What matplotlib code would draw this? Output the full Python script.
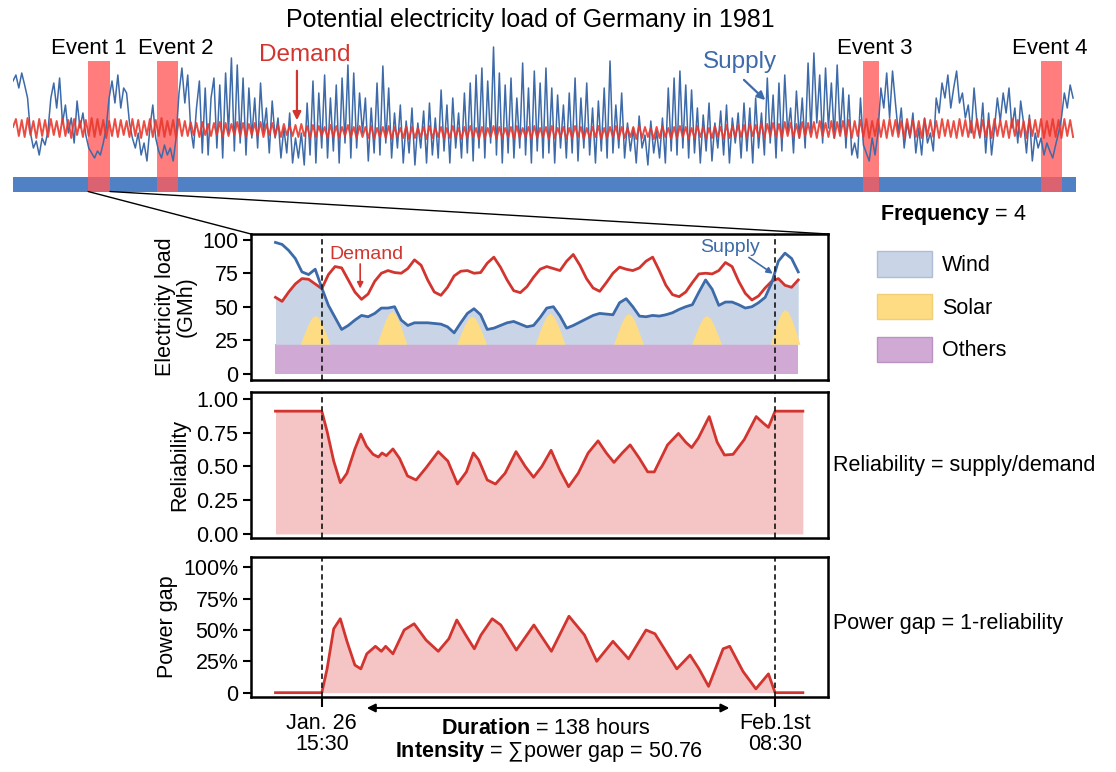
import numpy as np
import matplotlib.pyplot as plt
from matplotlib.patches import ConnectionPatch, Patch

plt.rcParams['font.family'] = ['Liberation Sans', 'DejaVu Sans']
plt.rcParams['mathtext.fontset'] = 'custom'
plt.rcParams['mathtext.rm'] = 'Liberation Sans'
plt.rcParams['mathtext.bf'] = 'Liberation Sans:bold'

# ---- whole year 1981, one value per day (arbitrary units) ----
year_supply = [
    112, 118, 105, 120, 108, 95, 60, 45, 52, 38,
    55, 48, 62, 95, 110, 85, 115, 70, 88, 60,
    75, 50, 92, 65, 80, 58, 45, 40, 35, 42,
    38, 50, 65, 95, 112, 90, 118, 85, 105, 100,
    70, 55, 45, 60, 38, 50, 32, 65, 88, 55,
    42, 35, 48, 38, 45, 32, 55, 100, 125, 90,
    118, 65, 45, 85, 112, 40, 105, 38, 95, 115,
    45, 108, 35, 120, 60, 135, 42, 128, 50, 115,
    38, 105, 55, 95, 45, 110, 60, 85, 40, 92,
    55, 75, 35, 65, 40, 80, 30, 55, 35, 60,
    28, 90, 38, 112, 30, 100, 45, 118, 35, 95,
    42, 108, 30, 115, 50, 128, 35, 120, 45, 100,
    60, 95, 32, 85, 40, 110, 38, 127, 50, 105,
    35, 80, 45, 88, 30, 72, 40, 85, 28, 70,
    45, 82, 30, 90, 38, 75, 35, 103, 42, 88,
    30, 95, 45, 80, 35, 100, 40, 110, 32, 118,
    45, 125, 35, 112, 50, 146, 38, 120, 30, 108,
    40, 115, 35, 95, 45, 130, 38, 105, 30, 122,
    42, 110, 35, 125, 40, 105, 30, 98, 45, 88,
    35, 100, 40, 115, 32, 95, 45, 110, 38, 85,
    30, 92, 42, 105, 35, 132, 40, 88, 45, 100,
    35, 70, 42, 65, 30, 77, 45, 58, 28, 72,
    40, 62, 35, 75, 30, 105, 42, 115, 38, 122,
    45, 108, 35, 103, 40, 85, 30, 78, 42, 90,
    32, 70, 45, 82, 38, 88, 30, 75, 50, 80,
    35, 90, 42, 85, 30, 95, 45, 80, 38, 115,
    50, 98, 35, 110, 42, 118, 60, 85, 40, 102,
    55, 95, 45, 130, 60, 140, 70, 118, 50, 125,
    65, 110, 55, 128, 60, 105, 45, 98, 38, 50,
    35, 95, 48, 40, 32, 55, 38, 60, 105, 85,
    120, 75, 122, 90, 60, 85, 45, 70, 55, 80,
    40, 65, 38, 75, 50, 60, 42, 95, 80, 110,
    95, 118, 85, 105, 122, 90, 100, 75, 88, 60,
    105, 70, 55, 90, 40, 80, 38, 65, 95, 72,
    100, 80, 105, 65, 85, 50, 92, 70, 40, 78,
    32, 60, 45, 55, 38, 50, 42, 35, 48, 60,
    75, 100, 85, 108, 95,
]
year_demand = [
    66, 74, 57, 73, 56, 75, 58, 72, 55, 74,
    57, 73, 56, 74, 58, 72, 56, 75, 57, 73,
    55, 74, 58, 72, 56, 73, 57, 75, 56, 74,
    58, 73, 55, 72, 57, 74, 56, 73, 58, 72,
    56, 74, 57, 73, 55, 72, 58, 74, 56, 73,
    57, 75, 56, 72, 58, 73, 55, 74, 57, 72,
    57, 71, 58, 70, 56, 71, 58, 69, 57, 70,
    58, 71, 56, 70, 57, 69, 58, 71, 57, 70,
    56, 69, 58, 70, 57, 71, 56, 69, 58, 70,
    57, 68, 56, 69, 58, 67, 57, 68, 56, 69,
    57, 67, 55, 68, 56, 67, 57, 66, 55, 68,
    56, 67, 55, 66, 57, 68, 56, 66, 55, 67,
    56, 66, 55, 67, 54, 65, 56, 66, 55, 67,
    54, 66, 56, 65, 55, 67, 54, 66, 55, 65,
    56, 66, 54, 67, 55, 65, 56, 66, 54, 65,
    55, 67, 56, 65, 54, 66, 55, 67, 56, 65,
    54, 66, 55, 65, 56, 67, 54, 66, 55, 65,
    56, 66, 54, 67, 55, 65, 56, 66, 54, 67,
    55, 65, 56, 66, 54, 67, 55, 65, 56, 66,
    54, 65, 55, 67, 56, 66, 54, 65, 55, 66,
    56, 67, 54, 65, 55, 66, 56, 67, 54, 66,
    55, 65, 56, 66, 54, 67, 55, 66, 56, 65,
    54, 66, 55, 67, 56, 65, 54, 66, 55, 67,
    56, 66, 54, 65, 55, 67, 56, 66, 54, 65,
    55, 67, 56, 66, 54, 68, 55, 67, 56, 68,
    56, 68, 55, 69, 57, 68, 56, 70, 55, 69,
    57, 70, 56, 69, 55, 71, 57, 70, 56, 69,
    55, 71, 57, 70, 56, 71, 55, 72, 57, 70,
    56, 72, 55, 71, 57, 72, 56, 73, 55, 72,
    57, 73, 56, 74, 55, 72, 57, 74, 56, 73,
    55, 74, 57, 73, 56, 72, 55, 74, 57, 73,
    56, 72, 55, 74, 57, 73, 56, 72, 55, 74,
    57, 73, 56, 72, 55, 74, 57, 73, 56, 72,
    55, 74, 57, 73, 56, 72, 55, 74, 57, 73,
    56, 72, 55, 74, 57, 73, 56, 72, 55, 74,
    57, 73, 56, 74, 55, 72, 57, 74, 56, 73,
    55, 74, 57, 73, 56,
]
event_names = ['Event 1', 'Event 2', 'Event 3', 'Event 4']
event_start_day = [25.8, 49.5, 291.9, 353.0]
event_end_day = [33.3, 56.7, 297.4, 360.2]

# ---- zoom on event 1 (hours from Jan. 26 15:30) ----
load_hours = list(range(-14, 146, 2))
supply_gmh = [98, 96.5, 92, 86, 76, 74, 78, 64, 51, 42,
              33, 36, 40, 43.5, 42.5, 45, 49, 49, 50, 40,
              36, 38, 38, 38, 37.5, 37, 35, 30.5, 38, 45,
              48.5, 44, 33, 34, 36, 38, 39, 37, 35, 36,
              42, 49, 50, 43, 34, 36, 38.5, 41, 43.5, 45,
              44.5, 44, 53, 56, 50, 43, 42.5, 43.5, 43, 44,
              45.5, 48, 50, 51.5, 61, 70, 63, 51, 53.5, 53.5,
              51.5, 49, 50, 53, 57, 68, 84, 90, 86, 76]
demand_gmh = [57, 54, 61, 67, 71, 70.5, 67, 63.5, 74, 80,
              79, 70, 61, 55.5, 59.5, 69, 75, 77, 75.5, 75,
              78.5, 85, 81, 70, 61, 58.5, 64.5, 73, 76.5, 77,
              75, 75.5, 82.5, 87, 79.5, 70, 62, 60.5, 65, 72,
              78, 80, 78.5, 77, 84, 89, 81, 71, 64, 61.5,
              68, 75, 79.6, 78, 77, 79, 84, 87, 77, 66,
              59, 57.5, 61, 68, 74.5, 75, 74.5, 77, 83, 80,
              69, 60, 55, 58, 64, 69, 71, 66, 64.5, 70]
others_gmh = 22
solar_peak_hours = [-2.0, 21.2, 45.3, 69.0, 92.7, 116.3, 140.0]
solar_peak_gmh = [43.5, 46.5, 43, 45, 45, 43.5, 48]
solar_offsets = [-4.5, -3, -2, -1, 0, 1, 2, 3, 4.5]
solar_shape = [0, 0.45, 0.72, 0.92, 1.0, 0.92, 0.72, 0.45, 0]

rel_hours = [-14, 0, 1.6, 3.6, 5.6, 7.6, 10.0, 11.8, 13.5, 15.5, 17.1, 18.2, 19.5,
             21.5, 23.5, 25.9, 28.5, 31.5, 35.2, 38.1, 41.0, 43.7, 45.8, 47.4,
             50.0, 52.5, 55.4, 58.7, 61.5, 64.0, 66.5, 69.3, 72.0, 74.6, 77.5,
             80.5, 83.5, 86.0, 88.3, 90.8, 93.2, 96.0, 98.5, 100.5, 104.5, 107.8,
             110.0, 111.8, 113.8, 117.1, 119.5, 121.7, 124.3, 127.7, 131.3, 133.5,
             135.0, 137.0, 145.4]
rel_values = [0.91, 0.91, 0.76, 0.54, 0.38, 0.45, 0.63, 0.74, 0.65, 0.59, 0.57, 0.60, 0.58,
              0.63, 0.56, 0.43, 0.40, 0.49, 0.61, 0.54, 0.37, 0.46, 0.60, 0.55,
              0.40, 0.37, 0.45, 0.61, 0.50, 0.42, 0.50, 0.62, 0.47, 0.35, 0.45,
              0.60, 0.69, 0.60, 0.53, 0.60, 0.66, 0.56, 0.46, 0.46, 0.66, 0.745,
              0.68, 0.64, 0.71, 0.87, 0.68, 0.585, 0.59, 0.70, 0.87, 0.82,
              0.79, 0.91, 0.91]

gap_hours = [-14, 0, 1.6, 3.6, 5.6, 7.6, 10.0, 11.8, 13.6, 16.2, 18.0, 19.3, 21.5,
             24.9, 27.9, 31.5, 35.2, 38.4, 40.8, 43.5, 46.1, 48.1, 51.5, 54.1,
             58.8, 64.1, 69.4, 74.7, 79.4, 83.1, 88.0, 92.7, 98.0, 100.7, 107.3,
             111.3, 114.0, 116.9, 121.3, 123.3, 127.3, 131.2, 135.0, 137.0, 145.4]
gap_values = [0, 0, 0.19, 0.51, 0.59, 0.41, 0.22, 0.19, 0.31, 0.37, 0.33, 0.37, 0.31,
              0.50, 0.55, 0.42, 0.33, 0.43, 0.58, 0.46, 0.35, 0.46, 0.59, 0.54,
              0.34, 0.54, 0.33, 0.61, 0.46, 0.25, 0.41, 0.27, 0.50, 0.47, 0.19,
              0.30, 0.19, 0.05, 0.35, 0.37, 0.17, 0.03, 0.15, 0, 0]

event_start_h = 0
event_end_h = 137

assert len(year_supply) == len(year_demand) == 365
assert len(load_hours) == len(supply_gmh) == len(demand_gmh)

# ---- layout ----
W, H = 1116, 772
RED = '#d2352f'
BLUE = '#3d6aa8'
fig = plt.figure(figsize=(W / 100, H / 100), dpi=100)


def add_ax(x0, y0, x1, y1):
    return fig.add_axes([x0 / W, 1 - y1 / H, (x1 - x0) / W, (y1 - y0) / H])


# top strip
ax0 = add_ax(13, 40, 1076, 193)
days = np.arange(len(year_supply))
ax0.axhspan(1.5, 16.5, color='#4f81c4', lw=0)
ax0.plot(days, year_supply, color=BLUE, lw=1.1)
ax0.plot(days, year_demand, color='#e8392e', lw=1.4, alpha=0.9)
ax0.bar(event_start_day, 130.5, width=np.subtract(event_end_day, event_start_day),
        bottom=1.5, align='edge', color='#ff5c5c', alpha=0.8, lw=0)
event_label_day = [26.1, 56.0, 296.0, 356.1]
for name, lx in zip(event_names, event_label_day):
    ax0.text(lx, 145, name, ha='center', va='center', fontsize=16)
ax0.text(100.3, 138, 'Demand', color=RED, fontsize=17.5, ha='center', va='center')
ax0.annotate('', xy=(97.5, 70), xytext=(97.5, 125),
             arrowprops=dict(arrowstyle='-|>', color=RED, lw=1.6, mutation_scale=12))
ax0.text(249.7, 131, 'Supply', color=BLUE, fontsize=17.5, ha='center', va='center')
ax0.annotate('', xy=(259, 91), xytext=(250.3, 115),
             arrowprops=dict(arrowstyle='-|>', color=BLUE, lw=1.6, mutation_scale=12))
ax0.set_xlim(0, 365)
ax0.set_ylim(0, 153)
ax0.axis('off')

fig.text(530 / W, 1 - 20 / H, 'Potential electricity load of Germany in 1981',
         ha='center', va='center', fontsize=18)

# zoom panels
ax1 = add_ax(251, 234, 828, 379.7)
ax2 = add_ax(251, 392, 828, 538)
ax3 = add_ax(251, 556.7, 828, 697.3)

h = np.array(load_hours)
sup = np.array(supply_gmh)
dem = np.array(demand_gmh)
ax1.fill_between(h, 0, others_gmh, color='#d0a9d5', lw=0)
ax1.fill_between(h, others_gmh, np.minimum(sup, dem), color='#c9d5e7', lw=0)
for ph, pv in zip(solar_peak_hours, solar_peak_gmh):
    hh = ph + np.array(solar_offsets)
    top = others_gmh + (pv - others_gmh) * np.array(solar_shape)
    ax1.fill_between(hh, others_gmh, top, color='#fddc84', lw=0)
ax1.plot(h, dem, color=RED, lw=2)
ax1.plot(h, sup, color=BLUE, lw=2)
ax1.text(13.4, 89, 'Demand', color=RED, fontsize=14, ha='center', va='center')
ax1.annotate('', xy=(11.6, 61.5), xytext=(11.6, 84),
             arrowprops=dict(arrowstyle='-|>', color=RED, lw=1.2, mutation_scale=9))
ax1.text(123.3, 94.5, 'Supply', color=BLUE, fontsize=14, ha='center', va='center')
ax1.annotate('', xy=(137, 73.5), xytext=(128.4, 88),
             arrowprops=dict(arrowstyle='-|>', color=BLUE, lw=1.2, mutation_scale=9))
ax1.set_ylim(-4.5, 104.3)
ax1.set_yticks([0, 25, 50, 75, 100])
ax1.set_ylabel('Electricity load\n(GMh)', fontsize=15.5, linespacing=1.0)

ax2.fill_between(rel_hours, 0, rel_values, color='#f5c5c5', lw=0)
ax2.plot(rel_hours, rel_values, color=RED, lw=2)
ax2.set_ylim(-0.03, 1.052)
ax2.set_yticks([0, 0.25, 0.5, 0.75, 1.0])
ax2.set_yticklabels(['0.00', '0.25', '0.50', '0.75', '1.00'])
ax2.set_ylabel('Reliability', fontsize=15.5)

ax3.fill_between(gap_hours, 0, gap_values, color='#f5c5c5', lw=0)
ax3.plot(gap_hours, gap_values, color=RED, lw=2)
ax3.set_ylim(-0.037, 1.085)
ax3.set_yticks([0, 0.25, 0.5, 0.75, 1.0])
ax3.set_yticklabels(['0', '25%', '50%', '75%', '100%'])
ax3.set_ylabel('Power gap', fontsize=15.5)

for ax in (ax1, ax2, ax3):
    ax.set_xlim(-21.4, 153.0)
    for t in (event_start_h, event_end_h):
        ax.axvline(t, color='#222222', lw=1.3, ls=(0, (3, 2)))
    for s in ax.spines.values():
        s.set_linewidth(1.8)
    ax.tick_params(axis='y', labelsize=15.5, length=6, width=1.5, pad=3)
    ax.set_xticks([])

ax3.set_xticks([event_start_h, event_end_h])
ax3.set_xticklabels(['Jan. 26\n15:30', 'Feb.1st\n08:30'])
ax3.tick_params(axis='x', labelsize=15.5, length=7, width=1.5, pad=4)
for lbl in ax3.get_xticklabels():
    lbl.set_linespacing(1.0)
fig.align_ylabels([ax1, ax2, ax3])

ax3.annotate('', xy=(123.2, -0.076), xytext=(13.6, -0.076),
             xycoords=('data', 'axes fraction'), textcoords=('data', 'axes fraction'),
             arrowprops=dict(arrowstyle='<|-|>', color='black', lw=1.5,
                             mutation_scale=12, shrinkA=0, shrinkB=0),
             annotation_clip=False)
fig.text(545.6 / W, 1 - 728 / H, r'$\bf{Duration}$ = 138 hours',
         ha='center', va='center', fontsize=15.5)
fig.text(549 / W, 1 - 751 / H, r'$\bf{Intensity}$ = ∑power gap = 50.76',
         ha='center', va='center', fontsize=15.5)

# zoom connectors from event 1
for xa, xb in ((event_start_day[0], 0), (event_end_day[0], 1)):
    con = ConnectionPatch(xyA=(xa, 1.5), coordsA=ax0.transData,
                          xyB=(xb, 1), coordsB=ax1.transAxes, color='black', lw=1)
    fig.add_artist(con)

# right side notes and legend
fig.text(880 / W, 1 - 215 / H, r'$\bf{Frequency}$ = 4', ha='left', va='center', fontsize=15.5)
fig.text(833 / W, 1 - 466 / H, 'Reliability = supply/demand', ha='left', va='center', fontsize=15.5)
fig.text(833 / W, 1 - 623 / H, 'Power gap = 1-reliability', ha='left', va='center', fontsize=15.5)

handles = [Patch(facecolor='#c9d5e7', edgecolor='#aebcd6', label='Wind'),
           Patch(facecolor='#fddc84', edgecolor='#f0cf78', label='Solar'),
           Patch(facecolor='#d0a9d5', edgecolor='#b994c2', label='Others')]
fig.legend(handles=handles, loc='upper left', bbox_to_anchor=(877 / W, 1 - 251 / H),
           frameon=False, fontsize=15.5, handlelength=2.56, handleheight=1.45,
           handletextpad=0.47, labelspacing=0.8, borderpad=0, borderaxespad=0)

fig.savefig('out.png', dpi=100)
